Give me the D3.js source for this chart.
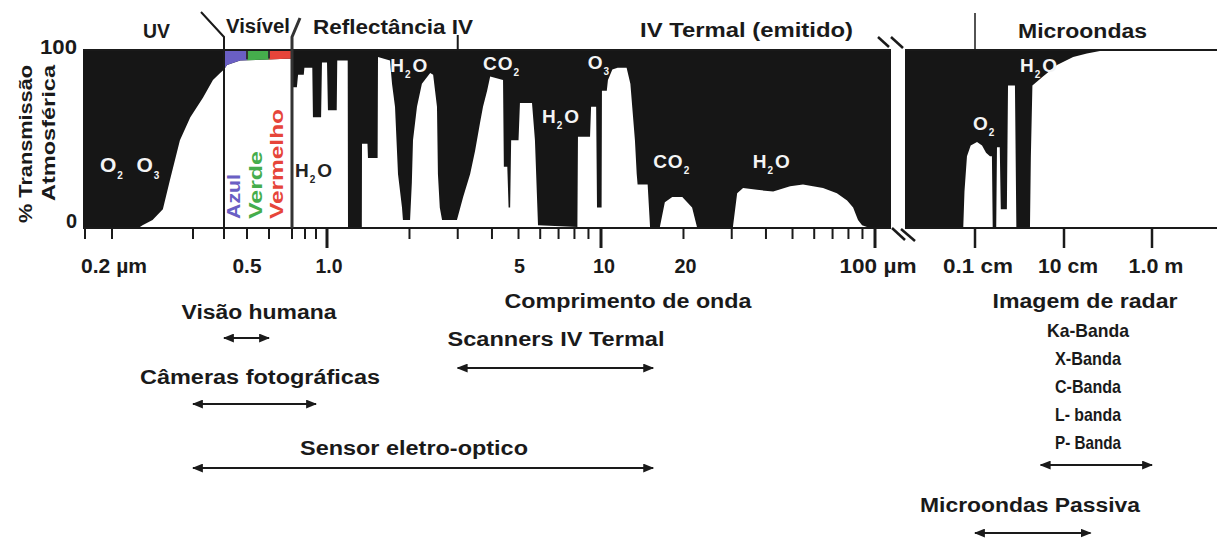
<!DOCTYPE html>
<html><head><meta charset="utf-8">
<script src="https://cdn.jsdelivr.net/npm/d3@7/dist/d3.min.js"></script>
<style>
html,body{margin:0;padding:0;background:#fff;}
svg text{font-family:"Liberation Sans",Arial,sans-serif;font-weight:bold;fill:#1a1a1a;}
</style></head><body>
<svg id="chart" width="1217" height="540"></svg>
<script>
// ---------------- data ----------------
// optical / infrared part: wavelength in µm, atmospheric transmission in %
const opticalWavelengths = [0.1,0.23,0.233,0.245,0.258,0.267,0.281,0.296,0.329,0.361,0.386,0.4,0.412,0.468,0.676,0.7,
  0.702,0.736,0.745,0.79,0.795,0.865,0.871,0.945,0.953,1.0,1.008,1.085,1.09,1.19,1.193,1.34,1.342,1.405,1.411,1.53,1.535,
  1.698,1.727,1.771,1.816,1.878,1.893,2.01,2.04,2.06,2.13,2.22,2.38,2.44,2.52,2.54,2.58,2.63,2.98,3.14,3.33,3.47,3.62,3.71,
  3.84,3.94,4.39,4.42,4.55,4.6,4.66,4.7,5.0,5.06,5.51,5.6,5.74,5.89,8.2,8.24,9.12,9.2,9.6,9.67,10.05,10.08,10.5,10.6,11.0,
  11.5,12.4,12.8,13.0,13.3,13.5,13.6,14.8,15.1,16.4,17.1,18.2,19.8,21.5,22.4,30.3,31.4,33.0,37.1,42.5,49.0,54.6,64.6,72.6,
  79.1,83.2,86.7,89.7,93.5,116];
const opticalTransmission = [0,0,1,4,10,26,49,62,73,83,87,89,91.5,94,95,95,
  79,79,86,86,90,90,62,62,93,93,66,66,94,94,0,0,47,47,39,39,96,
  94,81,68,30,11,4,4,25,49,68,81,87,86,68,30,11,4,4,17,30,43,59,68,
  77,85,83,34,34,11,11,49,49,70,70,70,49,1,0,51,51,68,68,11,11,77,77,83,89,
  90,90,81,68,49,30,24,24,0,0,14,17,17,11,0,0,19,22,21,20,23,24,22,19,
  15,11,4,1,0,0];
// microwave part: wavelength in cm, transmission in %
const microwaveWavelengths = [0.002,0.0545,0.058,0.066,0.08,0.111,0.144,0.177,0.217,0.24,0.25,0.3,0.312,0.36,0.38,0.52,0.552,0.79,0.85,1.72,1.8,1.95,3.37,6.96,12.7,18.2,25.6,38,600];
const microwaveTransmission = [0,0,20,40,46,48,46,42,40,40,0,0,45,45,10,10,80,80,0,0,40,80,85,91.5,96,98,99.4,100,100];

const opticalTickValues = [0.1,0.2,0.3,0.4,0.5,0.6,0.7,0.8,0.9,1,2,3,4,5,6,7,8,9,10,20,30,40,50,60,70,80,90,100];
const opticalMajorTicks = [1,10,100];
const opticalLabelValues = [0.2,0.5,1,5,10,20,100];
const opticalLabelTexts = ["0.2 µm","0.5","1.0","5","10","20","100 µm"];
const microwaveTickValues = [0.1,10,100];
const microwaveLabelTexts = ["0.1 cm","10 cm","1.0 m"];
const yTickValues = [0,100];

const visibleEdges = [0.4,0.5,0.6,0.7];
const visibleNames = ["Azul","Verde","Vermelho"];
const regionNames = ["UV","Visível","Reflectância IV","IV Termal (emitido)","Microondas"];

const sensorNames = ["Visão humana","Câmeras fotográficas","Scanners IV Termal","Sensor eletro-optico"];
const sensorStart = [0.4,0.3,3,0.3];     // µm
const sensorEnd = [0.6,0.9,15.5,15.5];   // µm
const microSensorNames = ["Imagem de radar","Microondas Passiva"];
const microSensorStart = [3,0.1];        // cm
const microSensorEnd = [100,20];         // cm
const radarBands = ["Ka-Banda","X-Banda","C-Banda","L- banda","P- Banda"];

// absorbing gases: main letter, subscript, trailing letter, wavelength, transmission level, panel
const gasMain = ["O","O","H","H","CO","O","H","CO","H","O","H"];
const gasSub = ["2","3","2","2","2","3","2","2","2","2","2"];
const gasTail = ["","","O","O","","","O","","O","","O"];
const gasWavelength = [0.147,0.226,0.722,1.7,3.71,8.95,6.09,15.5,35.8,0.0902,1.03];
const gasLevel = [31,31,28,87.6,88.7,89,58.8,33.3,33.3,54.8,87.6];
const gasPanel = ["o","o","o","o","o","o","o","o","o","m","m"];

// ---------------- drawing ----------------
const svg = d3.select("#chart");
const INK = "#1a1a1a", DARK = "#161616";
const P1 = {l:83, r:891}, P2 = {l:905, r:1217};

const y = d3.scaleLinear().domain([0,100]).range([227,50]);
const x1 = d3.scaleLog()
  .domain([0.1,0.2,0.3,0.4,0.5,0.6,0.7,0.8,0.9,1,10,100])
  .range([85,112,193,224,247,269,292,305,316,327,601,875]);
const x2 = d3.scaleLog().domain([0.1,10,100]).range([975,1064,1152]);

const optical = opticalWavelengths.map((w,i)=>[w,opticalTransmission[i]]);
const microwave = microwaveWavelengths.map((w,i)=>[w,microwaveTransmission[i]]);

const defs = svg.append("defs");
[[P1,"cp1"],[P2,"cp2"]].forEach(([p,id])=>{
  defs.append("clipPath").attr("id",id).append("rect")
    .attr("x",p.l).attr("y",y(100)).attr("width",p.r-p.l).attr("height",y(0)-y(100));
});
defs.append("marker").attr("id","ah").attr("viewBox","0 0 10 8")
  .attr("refX",9).attr("refY",4).attr("markerWidth",11).attr("markerHeight",9)
  .attr("markerUnits","userSpaceOnUse").attr("orient","auto-start-reverse")
  .append("path").attr("d","M0,0L10,4L0,8z").attr("fill",INK);

// panels: black = absorbed, white = transmitted
function panel(p, xs, data, clip){
  svg.append("rect").attr("x",p.l).attr("y",y(100)).attr("width",p.r-p.l)
    .attr("height",y(0)-y(100)).attr("fill",DARK);
  const area = d3.area().x(d=>xs(d[0])).y0(y(0)).y1(d=>y(d[1]));
  svg.append("path").datum(data).attr("d",area).attr("fill","#fff")
    .attr("clip-path",`url(#${clip})`);
}
panel(P1,x1,optical,"cp1");
panel(P2,x2,microwave,"cp2");

// visible colour band between curve and the top
function interp(data,xs,w){
  for(let i=0;i<data.length-1;i++){
    if(data[i][0]<=w && w<=data[i+1][0]){
      const a=xs(data[i][0]), b=xs(data[i+1][0]);
      const t = b===a?0:(xs(w)-a)/(b-a);
      return data[i][1]+t*(data[i+1][1]-data[i][1]);
    }
  }
  return 0;
}
const visColors = ["#6a5fc4","#45ad4c","#e6453a"];
visibleNames.forEach((n,i)=>{
  const a=visibleEdges[i], b=visibleEdges[i+1];
  const pts=[[a,interp(optical,x1,a)]].concat(optical.filter(d=>d[0]>a&&d[0]<b)).concat([[b,interp(optical,x1,b)]]);
  svg.append("path").datum(pts)
    .attr("d",d3.area().x(d=>x1(d[0])).y0(y(100)).y1(d=>y(d[1])))
    .attr("fill",visColors[i]);
});

// top border & axis lines
[[P1,x1],[P2,x2]].forEach(([p])=>{
  svg.append("line").attr("x1",p.l).attr("x2",p.r).attr("y1",y(100)).attr("y2",y(100)).attr("stroke",INK).attr("stroke-width",2);
  svg.append("line").attr("x1",p.l).attr("x2",p.r).attr("y1",y(0)+1).attr("y2",y(0)+1).attr("stroke",INK).attr("stroke-width",2);
});

// ticks
const axisY = y(0)+1;
opticalTickValues.forEach(v=>{
  const major = opticalMajorTicks.includes(v);
  svg.append("line").attr("x1",x1(v)).attr("x2",x1(v)).attr("y1",axisY).attr("y2",axisY+(major?20:11))
    .attr("stroke",INK).attr("stroke-width",major?3:2);
});
microwaveTickValues.forEach(v=>{
  svg.append("line").attr("x1",x2(v)).attr("x2",x2(v)).attr("y1",axisY).attr("y2",axisY+20)
    .attr("stroke",INK).attr("stroke-width",2.5);
});

function txt(s,x,yy,size,w,anchor,color){
  const t = svg.append("text").attr("x",x).attr("y",yy).attr("font-size",size)
    .attr("text-anchor",anchor||"middle").text(s);
  if(w) t.attr("textLength",w).attr("lengthAdjust","spacingAndGlyphs");
  if(color) t.style("fill",color);
  return t;
}
const optLabelW = [66,29,27,11,22,22,77];
const optLabelDx = [2,0,2,1,3,2,3];
opticalLabelValues.forEach((v,i)=>txt(opticalLabelTexts[i],x1(v)+optLabelDx[i],273,20,optLabelW[i]));
const mwLabelW = [70,60,55];
const mwLabelDx = [3,4,4];
microwaveTickValues.forEach((v,i)=>txt(microwaveLabelTexts[i],x2(v)+mwLabelDx[i],273,20,mwLabelW[i]));

// y axis
txt("100",77,y(100)+4,20,37,"end");
txt("0",77,y(0)+1,20,null,"end");
svg.append("text").attr("transform","translate(32,144) rotate(-90)").attr("font-size",19)
  .attr("text-anchor","middle").attr("textLength",158).attr("lengthAdjust","spacingAndGlyphs").text("% Transmissão");
svg.append("text").attr("transform","translate(55,133) rotate(-90)").attr("font-size",19)
  .attr("text-anchor","middle").attr("textLength",136).attr("lengthAdjust","spacingAndGlyphs").text("Atmosférica");

// region titles
const regionX = [143,226,313,640,1018], regionY=[38,33,34,37,38], regionW=[27,64,160,213,129];
regionNames.forEach((n,i)=>txt(n,regionX[i],regionY[i],20,regionW[i],"start"));

// boundary lines of the visible band and section separators
const bx0 = x1(visibleEdges[0]), bx1 = x1(visibleEdges[3]);
svg.append("path").attr("d",`M201,12L${bx0},37L${bx0},${axisY}`).attr("fill","none").attr("stroke",INK).attr("stroke-width",2);
svg.append("path").attr("d",`M300,18L${bx1},37L${bx1},${axisY}`).attr("fill","none").attr("stroke","#333").attr("stroke-width",3);
svg.append("line").attr("x1",x1(3)).attr("x2",x1(3)).attr("y1",35).attr("y2",y(100)).attr("stroke",INK).attr("stroke-width",2);
svg.append("line").attr("x1",x2(0.1)).attr("x2",x2(0.1)).attr("y1",13).attr("y2",y(100)).attr("stroke",INK).attr("stroke-width",1.5);
// band colour separators
[0.5,0.6].forEach(v=>{
  svg.append("line").attr("x1",x1(v)).attr("x2",x1(v)).attr("y1",y(100)+1).attr("y2",y(interp(optical,x1,v))-1)
   .attr("stroke","#333").attr("stroke-width",2);
});

// break marks
[[878,37,889,47],[891,37,903,48],[892,228,905,240],[901,229,915,241]].forEach(s=>{
  svg.append("line").attr("x1",s[0]).attr("y1",s[1]).attr("x2",s[2]).attr("y2",s[3]).attr("stroke",INK).attr("stroke-width",2.5);
});

// colour names (vertical)
const visX = [240,262,283], visW=[45,68,110];
visibleNames.forEach((n,i)=>{
  svg.append("text").attr("transform",`translate(${visX[i]},219) rotate(-90)`).attr("font-size",18)
    .attr("text-anchor","start").attr("textLength",visW[i]).attr("lengthAdjust","spacingAndGlyphs")
    .text(n).style("fill",visColors[i]);
});

// gas labels
gasMain.forEach((m,i)=>{
  const xs = gasPanel[i]==="o"?x1:x2;
  const dark = i===2;
  const big = i<2;
  const t = svg.append("text").attr("x",xs(gasWavelength[i])).attr("y",y(gasLevel[i]))
    .attr("font-size",big?21:19).attr("text-anchor","start")
    .style("fill",dark?"#222":"#f4f4f4").style("letter-spacing","1px");
  t.append("tspan").text(m);
  t.append("tspan").attr("dy",big?7:6).attr("font-size",10).text(gasSub[i]);
  if(gasTail[i]) t.append("tspan").attr("dy",-6).attr("dx",1).text(gasTail[i]);
});

// sensors
const sensorTextX=[259,260,556,414], sensorTextY=[319,384,346,455], sensorTextW=[155,240,217,228], sensorArrowY=[338,404,368,468];
sensorNames.forEach((n,i)=>{
  txt(n,sensorTextX[i],sensorTextY[i],20,sensorTextW[i]);
  svg.append("line").attr("x1",x1(sensorStart[i])).attr("x2",x1(sensorEnd[i]))
    .attr("y1",sensorArrowY[i]).attr("y2",sensorArrowY[i]).attr("stroke",INK).attr("stroke-width",2)
    .attr("marker-start","url(#ah)").attr("marker-end","url(#ah)");
});
txt("Comprimento de onda",628,308,21,247);
const mTextX=[1085,1030], mTextY=[308,512], mTextW=[185,220], mArrowY=[465,533];
microSensorNames.forEach((n,i)=>{
  txt(n,mTextX[i],mTextY[i],20,mTextW[i]);
  svg.append("line").attr("x1",x2(microSensorStart[i])).attr("x2",x2(microSensorEnd[i]))
    .attr("y1",mArrowY[i]).attr("y2",mArrowY[i]).attr("stroke",INK).attr("stroke-width",2)
    .attr("marker-start","url(#ah)").attr("marker-end","url(#ah)");
});
const bandW=[82,66,66,66,66];
radarBands.forEach((b,i)=>txt(b,1088,337+i*28,19,bandW[i]));
</script>
</body></html>
